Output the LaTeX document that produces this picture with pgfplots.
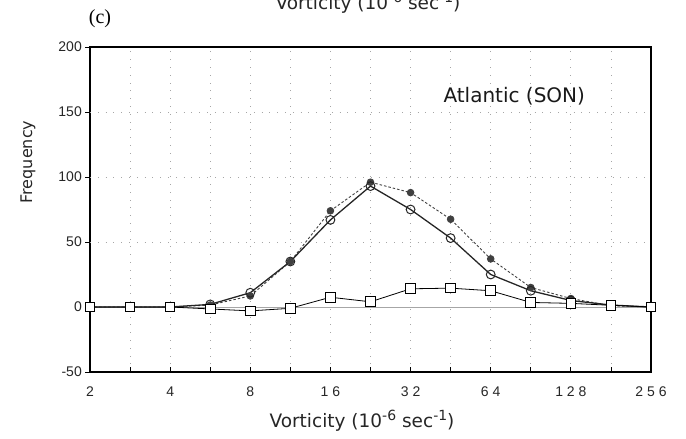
\documentclass[border=0pt]{standalone}
\usepackage{fontspec}
\setmainfont{Liberation Sans}
\newfontfamily\dejavu{DejaVu Sans}
\newfontfamily\serifc{Liberation Serif}
\usepackage{pgfplots}
\pgfplotsset{compat=1.18}
\newcommand\sups[1]{\raisebox{0.38em}{\fontsize{14}{14}\selectfont #1}}
\begin{document}
\begin{tikzpicture}[x=1pt,y=1pt]
\useasboundingbox (0,0) rectangle (686,439);
\begin{axis}[
  at={(90pt,67pt)}, anchor=south west,
  scale only axis, width=561pt, height=325pt,
  xmode=log, log basis x=2,
  xmin=2, xmax=256, ymin=-50, ymax=200,
  xtick={2,2.828,4,5.657,8,11.314,16,22.627,32,45.255,64,90.51,128,181.02,256},
  xticklabels={2,,4,,8,,1 6,,3 2,,6 4,,1 2 8,,2 5 6},
  ytick={-50,0,50,100,150,200},
  xtick pos=bottom, ytick pos=left,
  tick align=inside,
  major tick length=5pt,
  ytick style={xshift=-5pt},
  /pgf/number format/assume math mode=true,
  tick label style={font=\fontsize{14}{14}\selectfont, text=black!85},
  yticklabel style={anchor=east, inner sep=0pt, xshift=-8pt},
  xticklabel style={anchor=north, inner sep=0pt, yshift=-15pt},
  xmajorgrids,
  extra y ticks={50,100,150}, extra y tick style={grid=major, tick style={draw=none}, yticklabel=\empty},
  grid style={gray!70, line width=0.8pt, dash pattern=on 0.8pt off 7pt},
  axis line style={line width=1.2pt, black},
  every tick/.style={black, line width=0.8pt},
  clip=false,
]
\addplot[gray!70, line width=0.6pt] coordinates {(2,0) (256,0)};
% filled dots, dashed
\addplot[black!75, line width=0.9pt, dash pattern=on 2.5pt off 2pt,
  mark=*, mark size=3.3pt, mark options={solid, fill=black!75, draw=black!75}]
  coordinates {(2,0) (2.828,0) (4,0) (5.657,1.5) (8,8.5) (11.314,35) (16,74) (22.627,96) (32,88) (45.255,67.5) (64,37) (90.51,15) (128,6.5) (181.02,1) (256,0)};
% open circles, solid
\addplot[black!85, line width=1.3pt,
  mark=o, mark size=4.4pt, mark options={solid, fill=white, draw=black!85, line width=1pt}]
  coordinates {(2,0) (2.828,0) (4,0) (5.657,2) (8,11) (11.314,35) (16,67) (22.627,93) (32,75) (45.255,53) (64,25) (90.51,12.5) (128,5) (181.02,1.5) (256,0)};
% squares
\addplot[black, line width=0.8pt,
  mark=square*, mark size=4.8pt, mark options={solid, fill=white, draw=black, line width=1pt}]
  coordinates {(2,0) (2.828,0) (4,0) (5.657,-1.5) (8,-3) (11.314,-1) (16,7.5) (22.627,4) (32,14) (45.255,14.5) (64,12.5) (90.51,3.5) (128,2.8) (181.02,1.3) (256,0)};
\end{axis}
\node[font=\serifc\fontsize{20}{20}\selectfont] at (100,420) {(c)};
\node[font=\dejavu\fontsize{18.5}{18.5}\selectfont, anchor=base, text=black!85] at (368,429) {Vorticity (10\sups{-6} sec\sups{-1})};
\node[font=\dejavu\fontsize{18.5}{18.5}\selectfont, anchor=base, text=black!85] at (362,11) {Vorticity (10\sups{-6} sec\sups{-1})};
\node[font=\dejavu\fontsize{16}{16}\selectfont, rotate=90, text=black!85] at (28,277) {Frequency};
\node[font=\dejavu\fontsize{20}{20}\selectfont, anchor=base west, text=black!90] at (440,336) {Atlantic (SON)};
\end{tikzpicture}
\end{document}
